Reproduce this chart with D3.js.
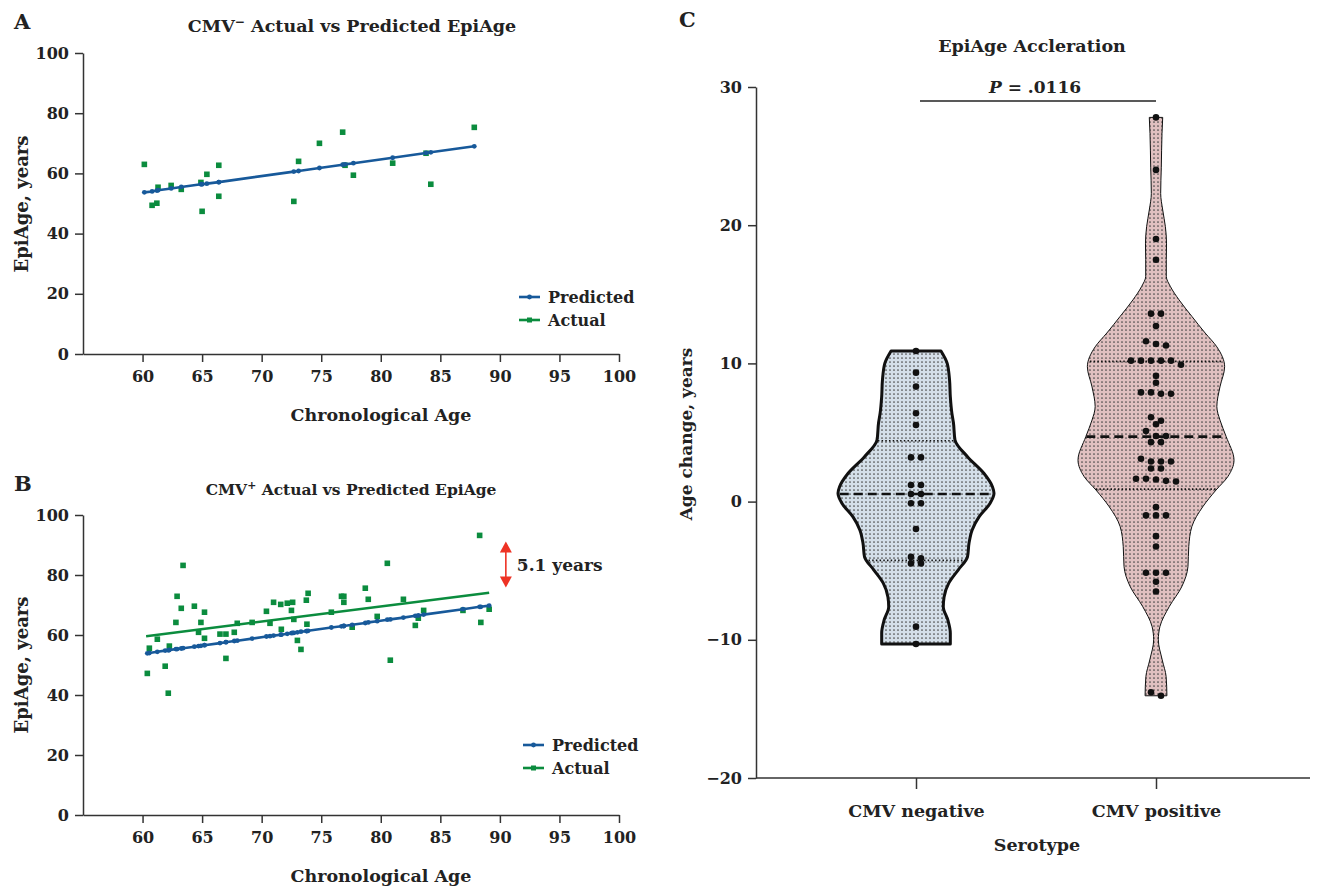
<!DOCTYPE html>
<html>
<head>
<meta charset="utf-8">
<script src="https://cdn.jsdelivr.net/npm/d3@7"></script>
<style>
  body { margin: 0; background: #fff; }
  svg text { font-family: "DejaVu Serif", serif; font-weight: bold; fill: #222; }
  .axis path, .axis line { stroke: #333; stroke-width: 1.5; }
  .axis text { font-size: 16px; font-family: "DejaVu Serif", serif; font-weight: bold; fill: #222; }
</style>
</head>
<body>
<div id="container"></div>
<script>
"use strict";

const width = 1322;
const height = 889;

// ---- panel A : CMV negative, actual vs predicted
const ageA =       [60.15, 60.8, 61.2, 61.3, 62.4, 63.25, 64.9, 65.0, 65.4, 66.4, 66.4, 72.7, 73.1, 74.85, 76.8, 77.0, 77.7, 81.0, 83.8, 84.2, 87.85];
const actualA =    [63.0, 49.4, 50.1, 55.4, 56.0, 54.7, 57.0, 47.4, 59.7, 52.4, 62.7, 50.7, 64.0, 70.0, 73.7, 62.7, 59.4, 63.4, 66.7, 56.4, 75.3];
const predictedA = [53.7, 54.0, 54.3, 54.4, 55.0, 55.5, 56.4, 56.4, 56.6, 57.1, 57.1, 60.6, 60.8, 61.8, 62.9, 63.0, 63.4, 65.2, 66.8, 67.0, 69.0];

// ---- panel B : CMV positive, actual vs predicted
const ageB = [60.4, 60.57, 61.24, 61.9, 62.16, 62.25, 62.8, 62.9, 63.25, 63.4, 64.35, 64.7, 64.9, 65.2, 65.2, 66.5, 67.0, 67.0, 67.7, 67.95,
              69.2, 70.4, 70.7, 71.0, 71.6, 71.65, 72.15, 72.6, 72.5, 72.7, 73.0, 73.3, 73.75, 73.8, 73.9, 75.85, 76.7, 76.9, 76.9, 77.6,
              78.7, 78.95, 79.7, 80.55, 80.8, 81.9, 82.9, 83.15, 83.6, 86.9, 88.3, 88.4, 89.1];
const actualB = [47.2, 55.6, 58.6, 49.6, 40.6, 56.3, 64.2, 72.9, 68.9, 83.2, 69.6, 60.9, 64.2, 67.6, 58.9, 60.3, 60.3, 52.2, 60.9, 63.9,
                 64.2, 67.9, 63.9, 70.9, 70.2, 61.9, 70.6, 70.9, 68.2, 65.2, 58.2, 55.2, 71.6, 63.6, 73.9, 67.6, 72.9, 72.9, 70.9, 62.6,
                 75.6, 71.9, 66.2, 83.9, 51.6, 71.9, 63.2, 65.6, 68.2, 68.2, 93.2, 64.2, 68.6];
const predictedB = [53.9, 54.0, 54.4, 54.8, 54.9, 55.0, 55.3, 55.3, 55.5, 55.6, 56.1, 56.3, 56.4, 56.6, 56.6, 57.3, 57.6, 57.6, 58.0, 58.1,
                    58.8, 59.5, 59.6, 59.8, 60.1, 60.1, 60.4, 60.7, 60.6, 60.7, 60.9, 61.1, 61.3, 61.3, 61.4, 62.5, 62.9, 63.0, 63.0, 63.4,
                    64.0, 64.2, 64.6, 65.1, 65.2, 65.8, 66.4, 66.5, 66.8, 68.6, 69.4, 69.4, 69.8];
const fitAgeB = [60.3, 89.1];
const fitActualB = [59.6, 74.1];
const gapLabel = "5.1 years";
const gapArrow = [90.5, 91.2, 75.8];   // age, top tip, bottom tip

const xTicks = [60, 65, 70, 75, 80, 85, 90, 95, 100];
const yTicks = [0, 20, 40, 60, 80, 100];

// ---- panel C : EpiAge acceleration violins
const groups = ["CMV negative", "CMV positive"];
const negValues = [10.9, 9.33, 8.32, 6.39, 5.54, 3.2, 3.2, 1.2, 1.2, 0.55, 0.55, -0.12, -0.12, -1.98, -4.0, -4.1, -4.47, -4.47, -9.05, -10.3];
const posValues = [27.8, 24.0, 19.0, 17.5, 13.6, 13.6, 12.7, 11.6, 11.4, 11.3, 10.2, 10.2, 10.2, 10.2, 10.2, 9.9, 9.1, 8.6,
                   7.9, 7.8, 7.8, 7.9, 6.1, 5.85, 5.6, 5.1, 4.75, 4.75, 4.3, 4.3, 3.1, 2.9, 2.9, 2.9, 2.4, 2.4,
                   1.65, 1.5, 1.6, 1.45, 1.65, -0.4, -1.0, -1.0, -1.0, -2.5, -3.25, -5.15, -5.15, -5.15, -5.8, -6.5, -13.8, -14.05];
// violin outline: value level and relative density
const negProfileV = [10.9, 10.0, 8.8, 7.6, 6.4, 5.7, 4.46, 3.25, 2.05, 1.08, 0.6, -0.12, -1.09, -2.05, -3.0, -4.0, -4.95, -5.9, -6.9, -7.6, -8.6, -9.5, -10.3];
const negProfileD = [0.32, 0.40, 0.43, 0.44, 0.46, 0.48, 0.50, 0.66, 0.87, 0.98, 1.0, 0.95, 0.81, 0.72, 0.68, 0.66, 0.54, 0.42, 0.36, 0.35, 0.41, 0.44, 0.44];
const posProfileV = [27.8, 26.65, 24.2, 22.3, 21.1, 19.9, 18.7, 17.5, 16.3, 15.55, 14.6, 13.4, 12.2, 11.2, 9.76, 8.3, 6.87, 5.9, 4.7, 3.0,
                     1.8, 0.84, -0.37, -1.8, -3.26, -4.7, -6.16, -7.6, -9.05, -10.0, -11.46, -12.67, -14.05];
const posProfileD = [0.086, 0.077, 0.068, 0.060, 0.086, 0.12, 0.135, 0.132, 0.132, 0.186, 0.295, 0.46, 0.63, 0.78, 0.88, 0.82, 0.78, 0.82, 0.90, 1.0,
                     0.92, 0.77, 0.60, 0.46, 0.42, 0.41, 0.33, 0.17, 0.05, 0.03, 0.08, 0.13, 0.14];
const negStats = { q1: -4.25, median: 0.55, q3: 4.4 };
const posStats = { q1: 0.9, median: 4.7, q3: 10.15 };
const yTicksC = [-20, -10, 0, 10, 20, 30];
const pLabel = ".0116";

const blue = "#17599a";
const green = "#0b8c3e";

let svg;

function initialize() {
    svg = d3.select("#container").append("svg")
        .attr("width", width)
        .attr("height", height);

    let defs = svg.append("defs");
    makeStipple(defs, "stippleNeg", "#d4dfe9");
    makeStipple(defs, "stipplePos", "#e0c0c0");

    // panel A
    let xA = d3.scaleLinear().domain([55, 100]).range([83, 619]);
    let yA = d3.scaleLinear().domain([0, 100]).range([354, 53]);
    drawScatterPanel(xA, yA, ageA, actualA, predictedA, null);
    svg.append("text").attr("x", 14).attr("y", 29).style("font-size", "21px").text("A");
    titleWithSup(352, 32, "CMV", "\u2212", " Actual vs Predicted EpiAge", 17.5);
    yLabel(22, 204, "EpiAge, years");
    centerText(381, 421, "Chronological Age", 17.5);
    legend(519, 297);

    // panel B
    let yB = d3.scaleLinear().domain([0, 100]).range([815, 515]);
    drawScatterPanel(xA, yB, ageB, actualB, predictedB, [fitAgeB, fitActualB]);
    svg.append("text").attr("x", 14).attr("y", 491).style("font-size", "21px").text("B");
    titleWithSup(351, 495, "CMV", "+", " Actual vs Predicted EpiAge", 15.5);
    yLabel(22, 665, "EpiAge, years");
    centerText(381, 882, "Chronological Age", 17.5);
    legend(523, 745);
    drawGapArrow(xA, yB);

    // panel C
    drawViolinPanel();
}

function makeStipple(defs, id, bg) {
    let p = defs.append("pattern")
        .attr("id", id)
        .attr("width", 4).attr("height", 4)
        .attr("patternUnits", "userSpaceOnUse");
    p.append("rect").attr("width", 4).attr("height", 4).attr("fill", bg);
    p.append("circle").attr("cx", 2).attr("cy", 2).attr("r", 0.85).attr("fill", "#474747");
}

function centerText(x, y, txt, size) {
    return svg.append("text")
        .attr("x", x).attr("y", y)
        .attr("text-anchor", "middle")
        .style("font-size", size + "px")
        .text(txt);
}

function yLabel(x, y, txt, size) {
    svg.append("text")
        .attr("transform", "translate(" + (x + 6) + "," + y + ") rotate(-90)")
        .attr("text-anchor", "middle")
        .style("font-size", (size || 18) + "px")
        .text(txt);
}

function titleWithSup(x, y, a, sup, b, size) {
    let t = svg.append("text")
        .attr("x", x).attr("y", y)
        .attr("text-anchor", "middle")
        .style("font-size", size + "px");
    t.append("tspan").text(a);
    t.append("tspan").attr("dy", -6).style("font-size", (size * 0.7) + "px").text(sup);
    t.append("tspan").attr("dy", 6).text(b);
}

function drawScatterPanel(x, y, ages, actual, predicted, fit) {
    let g = svg.append("g");

    g.append("g").attr("class", "axis")
        .attr("transform", "translate(0," + y(0) + ")")
        .call(d3.axisBottom(x).tickValues(xTicks).tickSize(8).tickSizeOuter(0).tickPadding(9));
    g.append("g").attr("class", "axis")
        .attr("transform", "translate(" + x.range()[0] + ",0)")
        .call(d3.axisLeft(y).tickValues(yTicks).tickSize(8).tickSizeOuter(0).tickPadding(6));

    // actual values, green squares
    g.selectAll(".actual")
        .data(ages)
        .enter().append("rect")
        .attr("class", "actual")
        .attr("x", (d, i) => x(d) - 2.8)
        .attr("y", (d, i) => y(actual[i]) - 2.8)
        .attr("width", 5.6).attr("height", 5.6)
        .attr("fill", green);

    if (fit) {
        g.append("path")
            .datum(fit[0].map((a, i) => [a, fit[1][i]]))
            .attr("d", d3.line().x(d => x(d[0])).y(d => y(d[1])))
            .attr("fill", "none")
            .attr("stroke", green)
            .attr("stroke-width", 2.5);
    }

    // predicted, blue line with point markers
    let pts = ages.map((a, i) => [a, predicted[i]]).sort((p, q) => p[0] - q[0]);
    g.append("path")
        .datum(pts)
        .attr("d", d3.line().x(d => x(d[0])).y(d => y(d[1])))
        .attr("fill", "none")
        .attr("stroke", blue)
        .attr("stroke-width", 2.6);
    g.selectAll(".pred")
        .data(pts)
        .enter().append("circle")
        .attr("cx", d => x(d[0]))
        .attr("cy", d => y(d[1]))
        .attr("r", 2.4)
        .attr("fill", blue);
}

function legend(x, y) {
    [["Predicted", blue], ["Actual", green]].forEach((item, i) => {
        let yy = y + i * 23;
        svg.append("line")
            .attr("x1", x).attr("x2", x + 21)
            .attr("y1", yy).attr("y2", yy)
            .attr("stroke", item[1]).attr("stroke-width", 2.6);
        if (i == 0) {
            svg.append("circle").attr("cx", x + 10.5).attr("cy", yy).attr("r", 2.4).attr("fill", item[1]);
        } else {
            svg.append("rect").attr("x", x + 8).attr("y", yy - 2.5).attr("width", 5).attr("height", 5).attr("fill", item[1]);
        }
        svg.append("text")
            .attr("x", x + 29).attr("y", yy + 5.5)
            .style("font-size", "16px")
            .text(item[0]);
    });
}

function drawGapArrow(x, y) {
    let ax = x(gapArrow[0]);
    let top = y(gapArrow[1]);
    let bot = y(gapArrow[2]);
    let red = "#ee3224";
    svg.append("line")
        .attr("x1", ax).attr("x2", ax)
        .attr("y1", top + 8).attr("y2", bot - 8)
        .attr("stroke", red).attr("stroke-width", 1.6);
    svg.append("path")
        .attr("d", "M" + ax + "," + top + "L" + (ax - 6) + "," + (top + 11) + "L" + (ax + 6) + "," + (top + 11) + "Z")
        .attr("fill", red);
    svg.append("path")
        .attr("d", "M" + ax + "," + bot + "L" + (ax - 6) + "," + (bot - 11) + "L" + (ax + 6) + "," + (bot - 11) + "Z")
        .attr("fill", red);
    svg.append("text")
        .attr("x", ax + 11).attr("y", (top + bot) / 2 + 6)
        .style("font-size", "17px")
        .text(gapLabel);
}

function drawViolinPanel() {
    let y = d3.scaleLinear().domain([-20, 30]).range([778, 87]);
    let x = d3.scalePoint().domain(groups).range([916, 1156]);
    let w = d3.scaleLinear().domain([0, 1]).range([0, 78]);
    let g = svg.append("g");

    // axes
    g.append("g").attr("class", "axis")
        .attr("transform", "translate(756,0)")
        .call(d3.axisLeft(y).tickValues(yTicksC).tickSize(8).tickSizeOuter(0).tickPadding(6)
            .tickFormat(d => d < 0 ? "\u2212" + Math.abs(d) : d));
    let xa = g.append("g").attr("class", "axis")
        .attr("transform", "translate(0," + y(-20) + ")")
        .call(d3.axisBottom(x).tickSize(11).tickSizeOuter(0).tickPadding(16));
    xa.select(".domain").remove();
    xa.selectAll("text").style("font-size", "17.5px");
    g.append("line")
        .attr("x1", 756).attr("x2", 1310)
        .attr("y1", y(-20)).attr("y2", y(-20))
        .attr("stroke", "#333").attr("stroke-width", 1.5);

    let specs = [
        { name: groups[0], pv: negProfileV, pd: negProfileD, vals: negValues, st: negStats, fill: "url(#stippleNeg)", sw: 3 },
        { name: groups[1], pv: posProfileV, pd: posProfileD, vals: posValues, st: posStats, fill: "url(#stipplePos)", sw: 1 }
    ];

    specs.forEach(s => {
        let cx = x(s.name);
        let prof = s.pv.map((v, i) => [v, s.pd[i]]);
        let area = d3.area()
            .curve(d3.curveMonotoneY)
            .y(d => y(d[0]))
            .x0(d => cx - w(d[1]))
            .x1(d => cx + w(d[1]));
        g.append("path")
            .datum(prof)
            .attr("d", area)
            .attr("fill", s.fill)
            .attr("stroke", "#111")
            .attr("stroke-width", s.sw)
            .attr("stroke-linejoin", "round");

        // median and quartiles, spanning the violin width at that level
        let dens = d3.scaleLinear().domain(s.pv).range(s.pd);
        [["q1", "1.5,2.2", 1.6], ["q3", "1.5,2.2", 1.6], ["median", "9,5", 2.6]].forEach(q => {
            let v = s.st[q[0]];
            let hw = w(dens(v)) - (s.sw > 1 ? 1.5 : 0.5);
            g.append("line")
                .attr("x1", cx - hw).attr("x2", cx + hw)
                .attr("y1", y(v)).attr("y2", y(v))
                .attr("stroke", "#111")
                .attr("stroke-width", q[2])
                .attr("stroke-dasharray", q[1]);
        });

        // scatter points, spread in rows
        let sorted = s.vals.slice().sort((a, b) => b - a);
        let rows = [];
        sorted.forEach(v => {
            let last = rows[rows.length - 1];
            if (last && Math.abs(y(last[0]) - y(v)) < 6) last.push(v);
            else rows.push([v]);
        });
        rows.forEach(r => {
            r.forEach((v, i) => {
                g.append("circle")
                    .attr("cx", cx + (i - (r.length - 1) / 2) * 10)
                    .attr("cy", y(v))
                    .attr("r", 3.3)
                    .attr("fill", "#111");
            });
        });
    });

    // titles
    svg.append("text").attr("x", 679).attr("y", 27).style("font-size", "21px").text("C");
    centerText(1032, 52, "EpiAge Accleration", 17.5);
    let pt = svg.append("text")
        .attr("x", 1035).attr("y", 93)
        .attr("text-anchor", "middle")
        .style("font-size", "17px");
    pt.append("tspan").style("font-style", "italic").text("P");
    pt.append("tspan").text(" = " + pLabel);
    svg.append("line")
        .attr("x1", x(groups[0]) + 4).attr("x2", x(groups[1]))
        .attr("y1", 101).attr("y2", 101)
        .attr("stroke", "#222").attr("stroke-width", 1.5);
    yLabel(686, 434, "Age change, years", 17);
    centerText(1037, 851, "Serotype", 17.5);
}

window.onload = initialize
</script>
</body>
</html>
